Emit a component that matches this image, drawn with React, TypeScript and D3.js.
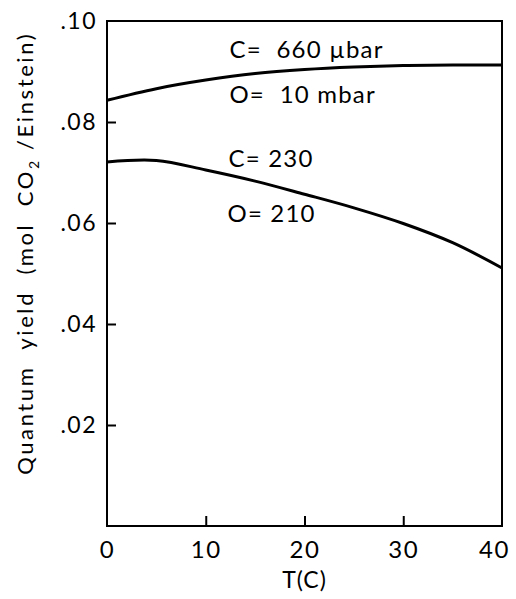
import { axisBottom, axisLeft, curveCatmullRom, line, scaleLinear, select } from "d3";
import { useEffect, useRef } from "react";

// Temperatures (C) where both curves were read
const temps = [0, 5, 10, 15, 20, 25, 30, 35, 40];
// C = 660 µbar, O = 10 mbar
const lowO2Yield = [0.0843, 0.0866, 0.0883, 0.0896, 0.0904, 0.0909, 0.0912, 0.0913, 0.0913];
// C = 230, O = 210
const normalAirYield = [0.0721, 0.0724, 0.0705, 0.0683, 0.0657, 0.063, 0.0599, 0.0561, 0.0511];

const xTicks = [0, 10, 20, 30, 40];
const yTicks = [0.02, 0.04, 0.06, 0.08, 0.1];

const W = 516;
const H = 599;
const margin = { top: 21, right: 14, bottom: 73, left: 107 };
const font = "Lato, 'DejaVu Sans', sans-serif";

export default function App() {
  const ref = useRef<SVGSVGElement>(null);

  useEffect(() => {
    const svg = select(ref.current);
    svg.selectAll("*").remove();

    const x = scaleLinear().domain([0, 40]).range([margin.left, W - margin.right]);
    const y = scaleLinear().domain([0, 0.1]).range([H - margin.bottom, margin.top]);

    // frame
    svg
      .append("rect")
      .attr("x", x(0))
      .attr("y", y(0.1))
      .attr("width", x(40) - x(0))
      .attr("height", y(0) - y(0.1))
      .attr("fill", "none")
      .attr("stroke", "#000")
      .attr("stroke-width", 2);

    // x axis, inward ticks
    const gx = svg
      .append("g")
      .attr("transform", `translate(0,${y(0)})`)
      .call(
        axisBottom(x)
          .tickValues(xTicks)
          .tickSize(-10)
          .tickPadding(15)
          .tickFormat((d) => String(d))
      );
    gx.select(".domain").remove();
    gx.selectAll("line").attr("stroke-width", 2);
    gx.selectAll("text")
      .attr("font-family", font)
      .attr("font-size", 24)
      .attr("letter-spacing", 1.5)
      .attr("fill", "#000");
    gx.selectAll(".tick")
      .filter((d) => d === 0 || d === 40)
      .select("line")
      .remove();
    // last label sits a bit inside the frame edge, as in the original
    gx.selectAll(".tick")
      .filter((d) => d === 40)
      .select("text")
      .attr("dx", -8);

    // y axis, inward ticks
    const gy = svg
      .append("g")
      .attr("transform", `translate(${x(0)},0)`)
      .call(
        axisLeft(y)
          .tickValues(yTicks)
          .tickSize(-9)
          .tickPadding(10)
          .tickFormat((d) => (d as number).toFixed(2).replace(/^0/, ""))
      );
    gy.select(".domain").remove();
    gy.selectAll("line").attr("stroke-width", 2);
    gy.selectAll("text")
      .attr("font-family", font)
      .attr("font-size", 23)
      .attr("letter-spacing", 1.5)
      .attr("fill", "#000");
    gy.selectAll(".tick")
      .filter((d) => d === 0.1)
      .select("line")
      .remove();

    const path = line<number>()
      .x((_, i) => x(temps[i]))
      .y((d) => y(d))
      .curve(curveCatmullRom.alpha(0.5));

    [lowO2Yield, normalAirYield].forEach((series) => {
      svg
        .append("path")
        .attr("d", path(series) || "")
        .attr("fill", "none")
        .attr("stroke", "#000")
        .attr("stroke-width", 3);
    });

    // curve labels
    const labels = [
      { text: "C=  660 \u00b5bar", t: 12.4, v: 0.0926 },
      { text: "O=  10 mbar", t: 12.4, v: 0.0838 },
      { text: "C= 230", t: 12.3, v: 0.0711 },
      { text: "O= 210", t: 12.2, v: 0.0602 },
    ];
    svg
      .selectAll("text.lbl")
      .data(labels)
      .join("text")
      .attr("class", "lbl")
      .attr("x", (d) => x(d.t))
      .attr("y", (d) => y(d.v))
      .attr("font-family", font)
      .attr("font-size", 24)
      .attr("letter-spacing", 1.2)
      .attr("fill", "#000")
      .style("white-space", "pre")
      .text((d) => d.text);

    // axis titles
    svg
      .append("text")
      .attr("x", x(20))
      .attr("y", 588)
      .attr("text-anchor", "middle")
      .attr("font-family", font)
      .attr("font-size", 23)
      .attr("letter-spacing", 1)
      .text("T(C)");

    const yt = svg
      .append("text")
      .attr("transform", `translate(33,${y(0.054)}) rotate(-90)`)
      .attr("text-anchor", "middle")
      .attr("font-family", font)
      .attr("font-size", 22)
      .attr("letter-spacing", 2.6)
      .style("white-space", "pre");
    yt.append("tspan").text("Quantum  yield  (mol  CO");
    yt.append("tspan").attr("font-size", 14).attr("dy", 6).text("2");
    yt.append("tspan").attr("dy", -6).text(" /Einstein)");
  }, []);

  return (
    <svg
      ref={ref}
      width={W}
      height={H}
      style={{ position: "absolute", left: 0, top: 0, background: "#fff" }}
    />
  );
}
